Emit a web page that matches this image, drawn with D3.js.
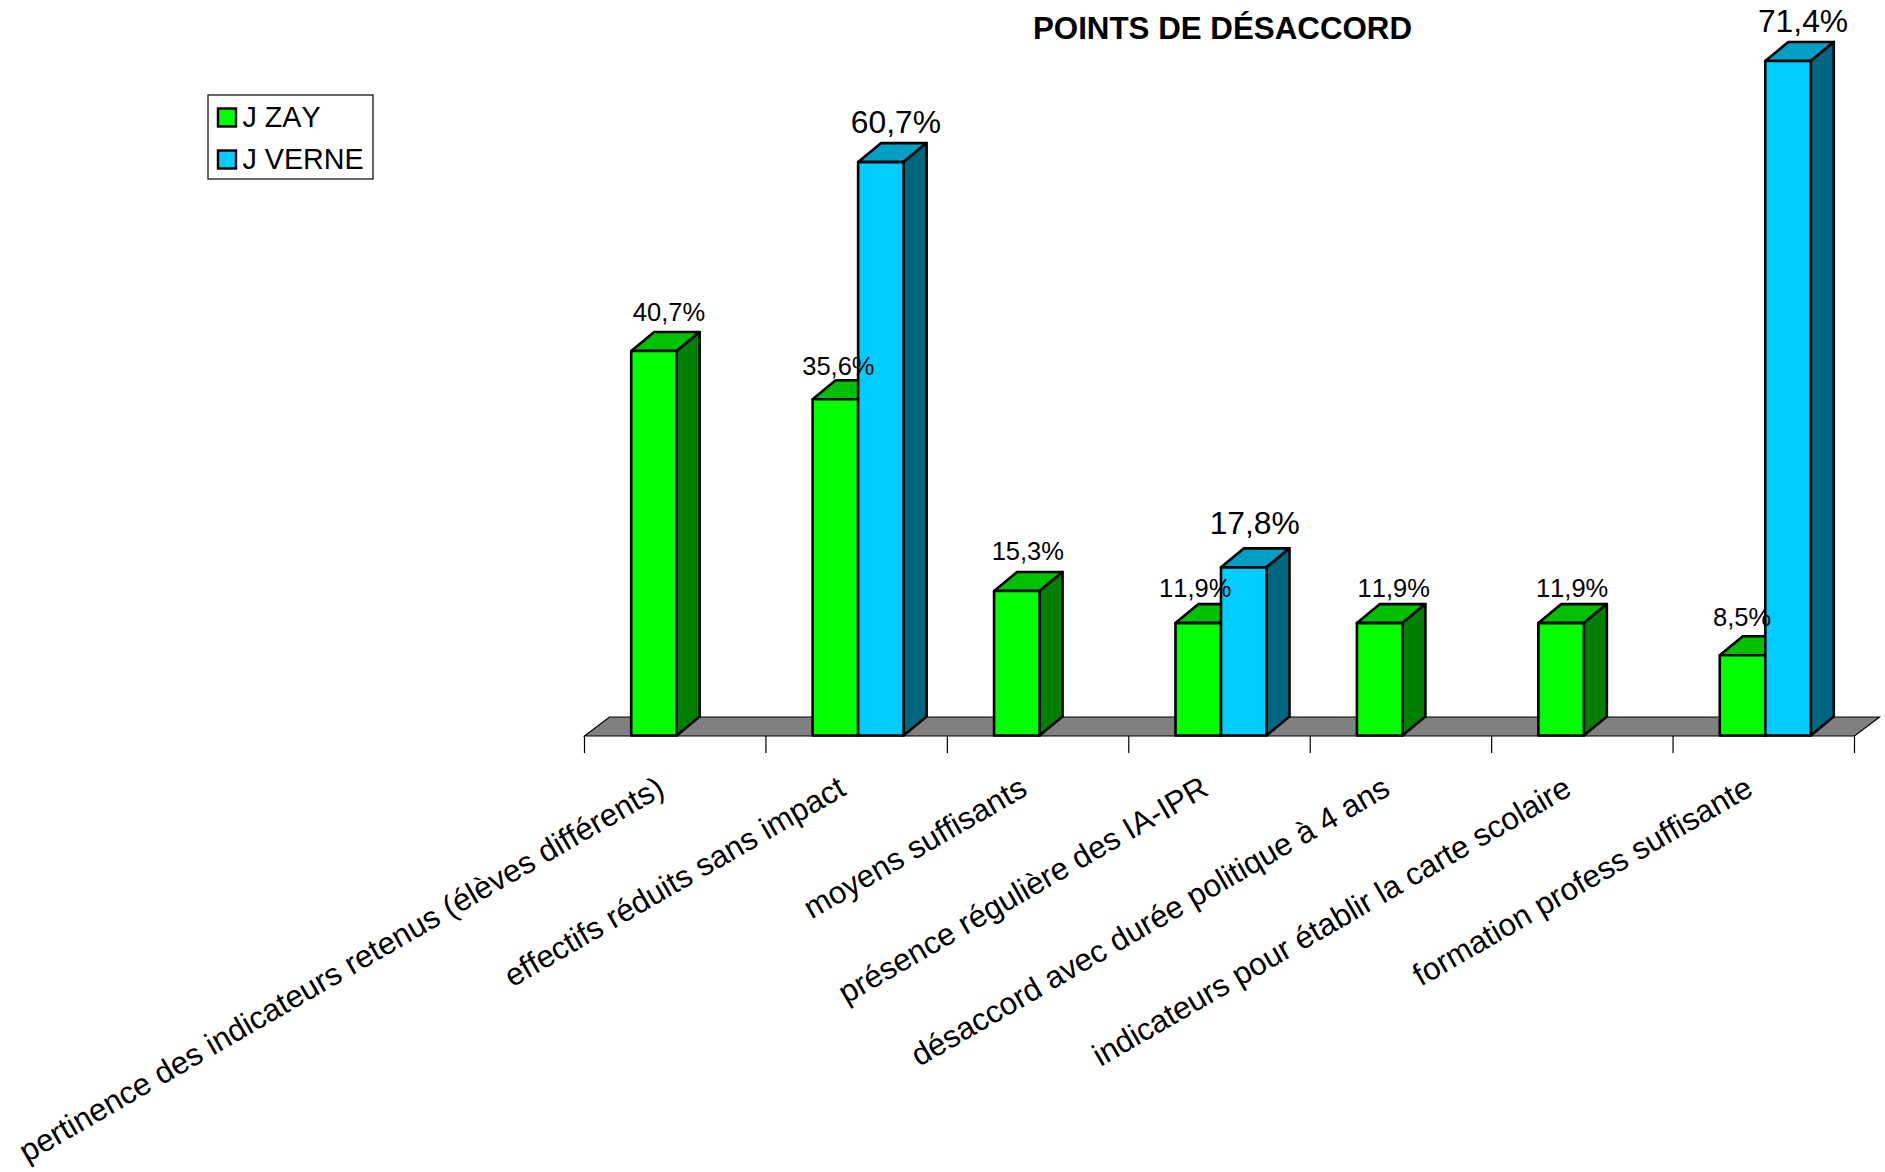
<!DOCTYPE html>
<html>
<head>
<meta charset="utf-8">
<script src="https://cdn.jsdelivr.net/npm/d3@7"></script>
<style>
html, body { margin: 0; padding: 0; background: #fff; }
svg { display: block; }
text { font-family: "Liberation Sans", Arial, sans-serif; fill: #000; font-kerning: none; }
</style>
</head>
<body>
<div id="chart"></div>
<script>
var categories = [
   "pertinence des indicateurs retenus (élèves différents)",
   "effectifs réduits sans impact",
   "moyens suffisants",
   "présence régulière des IA-IPR",
   "désaccord avec durée politique à 4 ans",
   "indicateurs pour établir la carte scolaire",
   "formation profess suffisante"
];
var series_names = ["J ZAY", "J VERNE"];
var zay_values = [40.7, 35.6, 15.3, 11.9, 11.9, 11.9, 8.5];
var verne_values = [null, 60.7, null, 17.8, null, null, 71.4];

var width = 1885, height = 1172;
var base_y = 735.5, top_y = 61, depth_x = 23, depth_y = 19;

var front_clr = { "J ZAY": "#00ff00", "J VERNE": "#00ccff" };
var top_clr = { "J ZAY": "#00c000", "J VERNE": "#009fc4" };
var side_clr = { "J ZAY": "#008000", "J VERNE": "#006680" };

// the value labels were placed by hand in the original, so each has its own nudge
var zay_nudge = [[1, -2], [2, -1], [-3, -3], [-4, -3], [0, 2], [-3, 2], [-1.5, -6]];
var verne_nudge = [null, [1, -1], null, [-3, -5], null, null, [1, -1]];

var svg = d3.select("#chart").append("svg").attr("width", width).attr("height", height);

var x_band = d3.scaleBand().domain(categories).range([584.5, 1854.5]);
var x_inner = d3.scaleBand().domain(series_names).range([x_band.bandwidth() / 2 - 44, x_band.bandwidth() / 2 + 47]);
var y = d3.scaleLinear().domain([0, 71.4]).range([base_y, top_y]);

var fmt = function(v) { return d3.format(".1f")(v).replace(".", ",") + "%"; };

// floor
var x0 = x_band.range()[0], x1 = x_band.range()[1];
svg.append("polygon")
   .attr("points", [[x0, 736], [x0 + depth_x + 2, 736 - depth_y], [x1 + depth_x + 2, 736 - depth_y], [x1, 736]].join(" "))
   .attr("fill", "#808080").attr("stroke", "#000").attr("stroke-width", 1.2);

// ticks at band edges
svg.selectAll("line.tick").data(categories.concat([null])).enter().append("line").attr("class", "tick")
   .attr("stroke", "#000").attr("stroke-width", 1.2)
   .attr("x1", function(d, i) { return x0 + i * x_band.step(); })
   .attr("x2", function(d, i) { return x0 + i * x_band.step(); })
   .attr("y1", 736).attr("y2", 753);

// bars, zay first so that verne covers its side
var bars = [];
categories.forEach(function(c, i) {
   bars.push({ cat: c, name: "J ZAY", value: zay_values[i], has_pair: verne_values[i] != null, nudge: zay_nudge[i] });
   bars.push({ cat: c, name: "J VERNE", value: verne_values[i], has_pair: true, nudge: verne_nudge[i] });
});
bars = bars.filter(function(d) { return d.value != null; });

var bar_g = svg.selectAll("g.bar").data(bars).enter().append("g").attr("class", "bar")
   .attr("stroke", "#000").attr("stroke-width", 2.6).attr("stroke-linejoin", "round");

function bar_left(d) { return x_band(d.cat) + x_inner(d.name); }

bar_g.append("polygon").attr("fill", function(d) { return top_clr[d.name]; })
   .attr("points", function(d) {
      var l = bar_left(d), r = l + x_inner.bandwidth(), t = y(d.value);
      return [[l, t], [l + depth_x, t - depth_y], [r + depth_x, t - depth_y], [r, t]].join(" ");
   });
bar_g.append("polygon").attr("fill", function(d) { return side_clr[d.name]; })
   .attr("points", function(d) {
      var r = bar_left(d) + x_inner.bandwidth(), t = y(d.value);
      return [[r, t], [r + depth_x, t - depth_y], [r + depth_x, base_y - depth_y], [r, base_y]].join(" ");
   });
bar_g.append("rect").attr("fill", function(d) { return front_clr[d.name]; })
   .attr("x", bar_left).attr("y", function(d) { return y(d.value); })
   .attr("width", x_inner.bandwidth())
   .attr("height", function(d) { return base_y - y(d.value); });

// value labels, the zay ones next to a verne bar sit further left
svg.selectAll("text.val").data(bars).enter().append("text").attr("class", "val")
   .attr("text-anchor", "middle")
   .attr("font-size", function(d) { return d.name == "J VERNE" ? 31.8 : 25.5; })
   .attr("x", function(d) {
      return bar_left(d) + x_inner.bandwidth() / 2 + (d.name == "J ZAY" && d.has_pair ? 1 : 14) + d.nudge[0];
   })
   .attr("y", function(d) {
      return y(d.value) - (d.name == "J VERNE" ? 28 : (d.has_pair ? 23 : 28)) + d.nudge[1];
   })
   .text(function(d) { return fmt(d.value); });

// category labels
svg.selectAll("text.cat").data(categories).enter().append("text").attr("class", "cat")
   .attr("text-anchor", "end").attr("font-size", 31.4)
   .attr("transform", function(d) {
      return "translate(" + (x_band(d) + x_band.bandwidth() / 2 - 9) + ",794) rotate(-30)";
   })
   .text(function(d) { return d; });

// title
svg.append("text").attr("x", 1222.5).attr("y", 39).attr("text-anchor", "middle")
   .attr("font-size", 31.3).attr("font-weight", "bold").text("POINTS DE DÉSACCORD");

// legend
var legend = svg.append("g").attr("transform", "translate(208,95)");
legend.append("rect").attr("width", 165).attr("height", 84)
   .attr("fill", "#fff").attr("stroke", "#000").attr("stroke-width", 1.2);
var leg_row = legend.selectAll("g").data(series_names).enter().append("g")
   .attr("transform", function(d, i) { return "translate(10," + (13.5 + i * 42) + ")"; });
leg_row.append("rect").attr("width", 18).attr("height", 18)
   .attr("fill", function(d) { return front_clr[d]; }).attr("stroke", "#000").attr("stroke-width", 2.4);
leg_row.append("text").attr("x", 24.5).attr("y", 18.5).attr("font-size", 28.7).text(function(d) { return d; });
</script>
</body>
</html>
